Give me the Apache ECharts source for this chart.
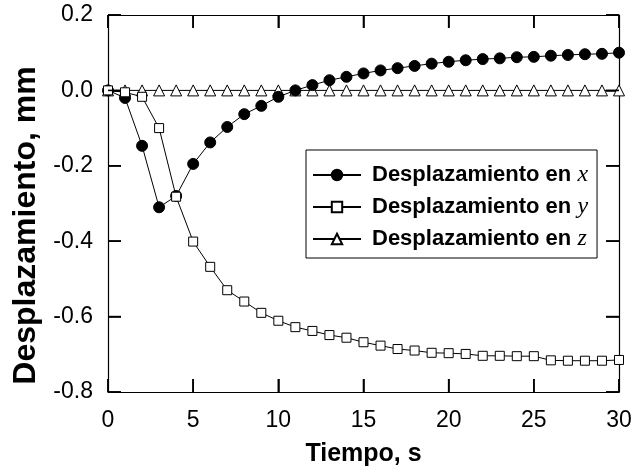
<!DOCTYPE html>
<html>
<head>
<meta charset="utf-8">
<script src="https://cdn.jsdelivr.net/npm/echarts@6/dist/echarts.min.js"></script>
<style>
  html, body { margin: 0; padding: 0; background: #fff; }
  #chart { width: 637px; height: 475px; }
</style>
</head>
<body>
<div id="chart"></div>
<script>
// Time samples, seconds
const tiempo = [0,1,2,3,4,5,6,7,8,9,10,11,12,13,14,15,16,17,18,19,20,21,22,23,24,25,26,27,28,29,30];

// Displacement along each axis, mm
const despX = [0, -0.02, -0.147, -0.31, -0.28, -0.195, -0.138, -0.097, -0.063, -0.041, -0.017,
  0.0, 0.014, 0.027, 0.036, 0.045, 0.053, 0.059, 0.065, 0.071, 0.076, 0.080, 0.083, 0.085,
  0.088, 0.089, 0.092, 0.094, 0.096, 0.097, 0.100];
const despY = [0, -0.005, -0.017, -0.10, -0.282, -0.401, -0.468, -0.53, -0.56, -0.59, -0.611,
  -0.628, -0.638, -0.649, -0.656, -0.668, -0.677, -0.686, -0.690, -0.696, -0.697, -0.699,
  -0.704, -0.704, -0.705, -0.705, -0.716, -0.717, -0.717, -0.717, -0.715];
const despZ = [0,0,0,0,0,0,0,0,0,0,0,0,0,0,0,0,0,0,0,0,0,0,0,0,0,0,0,0,0,0,0];

const seriesNames = ['Desplazamiento en x', 'Desplazamiento en y', 'Desplazamiento en z'];
const axisLetters = ['x', 'y', 'z'];

// Axis scales and tick values
const xTicks = { min: 0, max: 30, interval: 5 };
const yTicks = { min: -0.8, max: 0.2, interval: 0.2 };
const xTickValues = [0, 5, 10, 15, 20, 25, 30];
const yTickValues = [-0.8, -0.6, -0.4, -0.2, 0.0, 0.2];

const FONT = '"Liberation Sans", Arial, Helvetica, sans-serif';
const SERIF = '"Liberation Serif", "Times New Roman", serif';

function pairs(xs, ys) { return xs.map((t, i) => [t, ys[i]]); }

const TICK = 13;

function frameLine() {
  return { show: true, onZero: false, lineStyle: { color: '#000', width: 1.2 } };
}
function innerTicks() {
  return { show: true, inside: true, length: TICK, lineStyle: { color: '#000', width: 1.5 } };
}

const chart = echarts.init(document.getElementById('chart'), null, { renderer: 'canvas' });

chart.setOption({
  backgroundColor: '#fff',
  animation: false,
  grid: { left: 108, right: 18, top: 15, bottom: 83 },
  legend: {
    orient: 'vertical',
    left: 306,
    top: 150,
    data: seriesNames,
    backgroundColor: '#fff',
    borderColor: '#000',
    borderWidth: 1,
    borderRadius: 0,
    padding: [13, 9, 7, 6],
    itemWidth: 48,
    itemHeight: 13,
    itemGap: 8,
    formatter: function (name) {
      const i = seriesNames.indexOf(name);
      return '{a|Desplazamiento en }{b|' + axisLetters[i] + '}';
    },
    textStyle: {
      color: '#000',
      padding: [0, 0, 0, 6],
      lineHeight: 20,
      rich: {
        a: { fontFamily: FONT, fontWeight: 'bold', fontSize: 22, lineHeight: 20, color: '#000' },
        b: { fontFamily: SERIF, fontStyle: 'italic', fontSize: 24, lineHeight: 20, color: '#000' }
      }
    }
  },
  xAxis: [
    {
      type: 'value', position: 'bottom',
      min: xTicks.min, max: xTicks.max, interval: xTicks.interval,
      name: 'Tiempo, s', nameLocation: 'middle', nameGap: 50,
      nameTextStyle: { fontFamily: FONT, fontWeight: 'bold', fontSize: 25, color: '#000' },
      axisLine: frameLine(), axisTick: innerTicks(), splitLine: { show: false },
      axisLabel: { fontFamily: FONT, fontSize: 23, color: '#000', margin: 17 }
    },
    {
      type: 'value', position: 'top',
      min: xTicks.min, max: xTicks.max, interval: xTicks.interval,
      axisLine: frameLine(), axisTick: innerTicks(), splitLine: { show: false },
      axisLabel: { show: false }
    }
  ],
  yAxis: [
    {
      type: 'value', position: 'left',
      min: yTicks.min, max: yTicks.max, interval: yTicks.interval,
      name: 'Desplazamiento, mm', nameLocation: 'middle', nameGap: 64, nameRotate: 90,
      nameTextStyle: { fontFamily: FONT, fontWeight: 'bold', fontSize: 32, color: '#000', padding: [0, 44, 0, 0] },
      axisLine: frameLine(), axisTick: innerTicks(), splitLine: { show: false },
      axisLabel: {
        fontFamily: FONT, fontSize: 23, color: '#000', margin: 15,
        formatter: v => v.toFixed(1)
      }
    },
    {
      type: 'value', position: 'right',
      min: yTicks.min, max: yTicks.max, interval: yTicks.interval,
      axisLine: frameLine(), axisTick: innerTicks(), splitLine: { show: false },
      axisLabel: { show: false }
    }
  ],
  series: [
    {
      name: seriesNames[2], type: 'line', data: pairs(tiempo, despZ), z: 2,
      symbol: 'triangle', symbolSize: 11, showAllSymbol: true,
      lineStyle: { color: '#000', width: 1 },
      itemStyle: { color: '#fff', borderColor: '#000', borderWidth: 1 }
    },
    {
      name: seriesNames[0], type: 'line', data: pairs(tiempo, despX), z: 3,
      symbol: 'circle', symbolSize: 11, showAllSymbol: true,
      lineStyle: { color: '#000', width: 1 },
      itemStyle: { color: '#000', borderColor: '#000', borderWidth: 1 }
    },
    {
      name: seriesNames[1], type: 'line', data: pairs(tiempo, despY), z: 4,
      symbol: 'rect', symbolSize: 9, showAllSymbol: true,
      lineStyle: { color: '#000', width: 1 },
      itemStyle: { color: '#fff', borderColor: '#000', borderWidth: 1 }
    }
  ]
});

// Inward tick marks on all four sides of the frame, placed through the axis scales
function px(x, y) { return chart.convertToPixel({ xAxisIndex: 0, yAxisIndex: 0 }, [x, y]); }
const tickLines = [];
const tickShape = (x1, y1, x2, y2) => ({
  type: 'line', z: 50, silent: true,
  shape: { x1, y1, x2, y2 },
  style: { stroke: '#000', lineWidth: 1.6 }
});
xTickValues.forEach(v => {
  const b = px(v, yTicks.min), t = px(v, yTicks.max);
  tickLines.push(tickShape(b[0], b[1], b[0], b[1] - TICK));
  tickLines.push(tickShape(t[0], t[1], t[0], t[1] + TICK));
});
yTickValues.forEach(v => {
  const l = px(xTicks.min, v), r = px(xTicks.max, v);
  tickLines.push(tickShape(l[0], l[1], l[0] + TICK, l[1]));
  tickLines.push(tickShape(r[0], r[1], r[0] - TICK, r[1]));
});
chart.setOption({ graphic: tickLines });
</script>
</body>
</html>
